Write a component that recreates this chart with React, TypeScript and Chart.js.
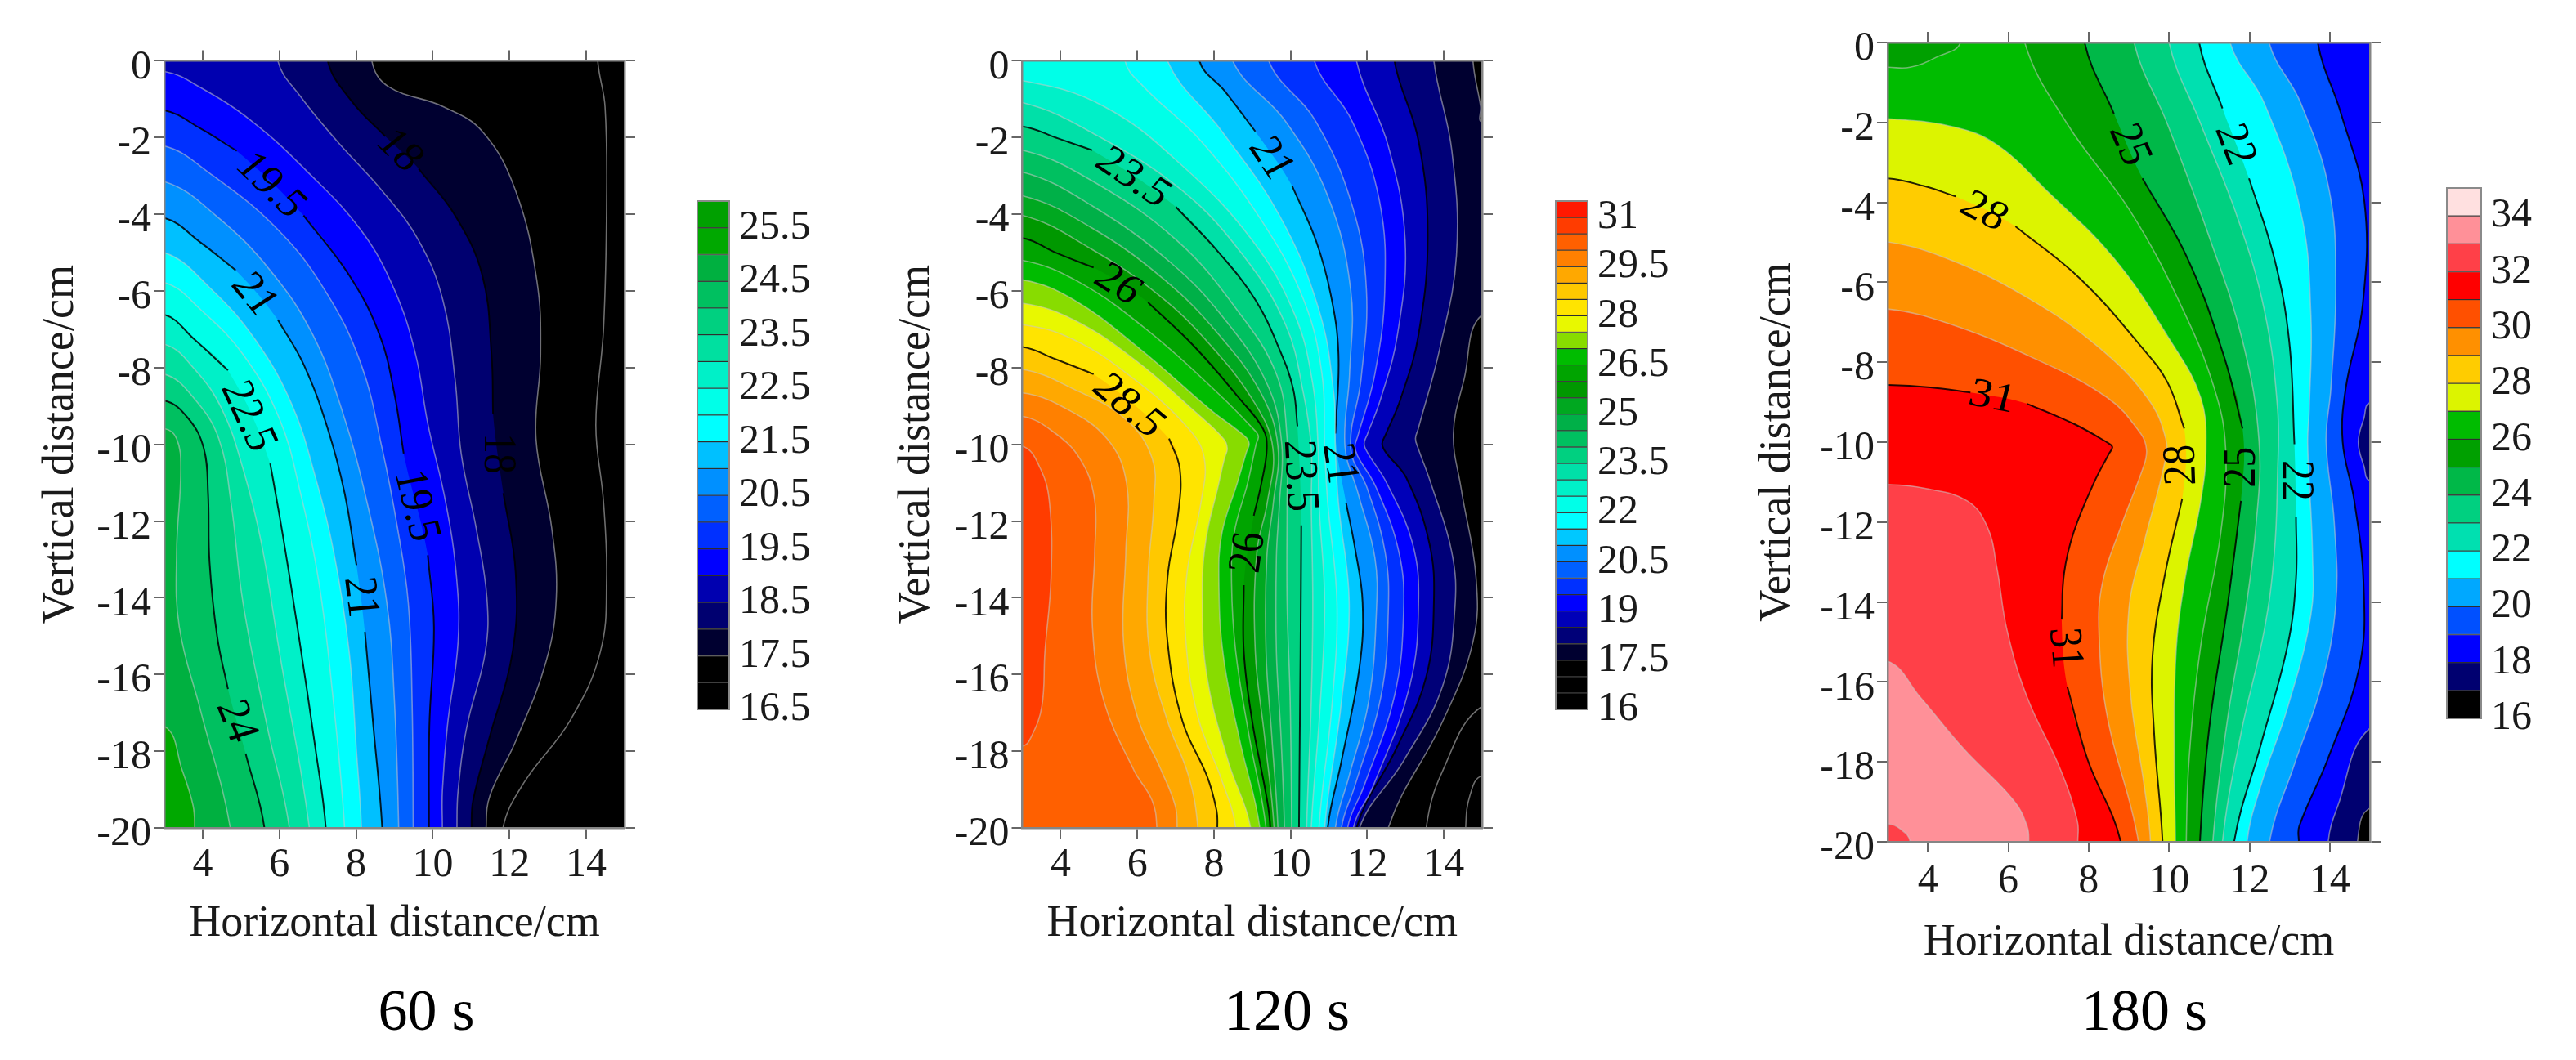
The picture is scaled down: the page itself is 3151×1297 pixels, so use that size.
import React, { useEffect, useRef } from 'react';
import Chart from 'chart.js/auto';

type Pt = number[];

const GAP: Pt = [NaN, NaN];
const SERIF = '"Liberation Serif", "Times New Roman", serif';

const xTicks = [4, 6, 8, 10, 12, 14];
const yTicks = [0, -2, -4, -6, -8, -10, -12, -14, -16, -18, -20];

// ---- 60 s contours, hottest first
const c60_25: Pt[] = [[3, -17.35], [3.47, -18.51], [3.75, -19.42], [3.79, -20]];
const c60_24_5: Pt[] = [[3, -9.59], [3.32, -9.85], [3.43, -10.63], [3.32, -12.82], [3.39, -14.76], [3.95, -16.96], [4.72, -20]];
const c60_24: Pt[] = [[3, -8.86], [3.63, -9.33], [4.03, -10.11], [4.14, -11.27], [4.18, -13.08], [4.38, -15.02], [4.66, -16.38], GAP, [5.12, -18.06], [5.61, -20]];
const c60_23_5: Pt[] = [[3, -8.17], [3.79, -8.82], [4.42, -9.85], [4.74, -11.53], [5.05, -14.12], [5.68, -17.35], [6.26, -20]];
const c60_23: Pt[] = [[3, -7.39], [3.79, -8.04], [4.5, -9.08], [5.05, -10.63], [5.53, -12.57], [6, -15.41], [6.78, -20]];
const c60_22_5: Pt[] = [[3, -6.62], [3.79, -7.27], [4.66, -8.07], GAP, [5.76, -10.5], [6.08, -12.31], [6.47, -14.76], [6.95, -18], [7.21, -20]];
const c60_22: Pt[] = [[3, -5.78], [3.95, -6.49], [5.05, -7.65], [6, -9.33], [6.55, -11.27], [7.03, -13.6], [7.38, -16.44], [7.7, -20]];
const c60_21_5: Pt[] = [[3, -5], [4.18, -5.91], [5.37, -7.27], [6.32, -8.95], [6.95, -10.89], [7.42, -12.82], [7.82, -15.41], [8.01, -18], [8.14, -20]];
const c60_21: Pt[] = [[3, -4.1], [3.95, -4.74], [4.86, -5.46], GAP, [5.96, -6.75], [6.63, -7.91], [7.26, -9.59], [7.7, -11.27], [8.01, -13.15], GAP, [8.23, -14.89], [8.45, -17.35], [8.68, -20]];
const c60_20_5: Pt[] = [[3, -3.15], [4.34, -4.03], [5.76, -5.46], [6.87, -7.14], [7.66, -9.2], [8.29, -11.53], [8.8, -14.12], [9, -16.7], [9.11, -20]];
const c60_20: Pt[] = [[3, -2.22], [4.18, -2.93], [5.92, -4.36], [7.18, -5.97], [8.13, -7.91], [8.68, -10.11], [9.08, -12.18], [9.36, -14.12], [9.46, -16.7], [9.49, -20]];
const c60_19_5: Pt[] = [[3, -1.29], [3.95, -1.77], [4.89, -2.35], GAP, [6.63, -4.03], [7.82, -5.59], [8.61, -7.14], [9, -8.69], [9.24, -10.24], GAP, [9.87, -12.89], [10.03, -14.76], [9.91, -17.35], [9.9, -20]];
const c60_19: Pt[] = [[3, -0.28], [3.95, -0.7], [5.29, -1.58], [6.71, -2.87], [8.13, -4.42], [9, -5.97], [9.55, -7.65], [9.87, -9.46], [10.34, -11.53], [10.62, -13.47], [10.66, -15.15], [10.38, -17.35], [10.25, -19.03], [10.25, -20]];
const c60_18_5: Pt[] = [[5.96, 0], [6.55, -0.93], [7.5, -2.09], [8.68, -3.39], [9.63, -4.68], [10.26, -6.23], [10.58, -8.3], [10.74, -10.24], [11.13, -12.18], [11.41, -13.99], [11.37, -15.41], [10.89, -17.35], [10.66, -19.03], [10.63, -20]];
const c60_18: Pt[] = [[7.26, 0], [7.89, -1.06], [8.76, -1.97], GAP, [9.63, -2.81], [10.58, -4.03], [11.29, -5.59], [11.53, -7.65], [11.57, -9.2], GAP, [11.84, -11.27], [12.16, -13.34], [12.08, -15.41], [11.45, -17.74], [11.05, -19.29], [11.01, -20]];
const c60_17_5: Pt[] = [[8.41, 0], [8.84, -0.67], [10.26, -1.19], [11.29, -1.84], [12.16, -3.39], [12.71, -5.71], [12.81, -7.65], [12.69, -9.85], [13.1, -12.18], [13.22, -13.99], [12.95, -15.67], [12.16, -17.74], [11.49, -19.16], [11.39, -20]];
const c60_17: Pt[] = [[14.3, 0], [14.49, -1.2], [14.53, -3.8], [14.45, -7], [14.25, -9.5], [14.45, -11.5], [14.53, -13.5], [14.37, -15.4], [13.58, -17.2], [12.39, -18.8], [11.83, -20]];

const curves60 = [c60_25, c60_24_5, c60_24, c60_23_5, c60_23, c60_22_5, c60_22, c60_21_5, c60_21, c60_20_5, c60_20, c60_19_5, c60_19, c60_18_5, c60_18, c60_17_5, c60_17];
const levels60 = [25, 24.5, 24, 23.5, 23, 22.5, 22, 21.5, 21, 20.5, 20, 19.5, 19, 18.5, 18, 17.5, 17];
const fills60 = ['#00a800', '#00b040', '#00c060', '#00d080', '#00e0a0', '#00f0c8', '#00ffe8', '#00ffff', '#00c0ff', '#0090ff', '#0060ff', '#0030ff', '#0000ff', '#0000b0', '#000070', '#000030', '#000000'];
const black60 = [24, 22.5, 21, 19.5, 18];
const labels60 = ['18', '19.5', '21', '22.5', '19.5', '18', '21', '24'];
const labelX60 = [9.12, 5.76, 5.33, 5.17, 9.55, 11.68, 8.09, 4.86];
const labelY60 = [-2.35, -3.26, -6.1, -9.27, -11.6, -10.24, -13.99, -17.22];
const labelAngles60 = [44, 44, 50, 65, 76, 90, 83, 68];

// ---- 120 s contours, hottest first
const c120_30_5: Pt[] = [[3, -10.05], [3.47, -10.63], [3.71, -11.53], [3.75, -13.47], [3.59, -15.41], [3.51, -16.83], [3.24, -17.61], [3, -17.87]];
const c120_30: Pt[] = [[3, -9.27], [3.79, -9.66], [4.5, -10.37], [4.88, -11.4], [4.89, -12.82], [4.83, -14.76], [5.13, -16.7], [5.92, -18.51], [6.39, -19.29], [6.51, -20]];
const c120_29_5: Pt[] = [[3, -8.66], [4.03, -9.01], [5.21, -9.85], [5.72, -11.01], [5.7, -12.82], [5.64, -15.15], [6, -17.09], [6.63, -18.51], [6.99, -19.42], [7.04, -20]];
const c120_29: Pt[] = [[3, -8.04], [4.34, -8.56], [5.68, -9.33], [6.39, -10.37], [6.43, -11.53], [6.28, -13.47], [6.32, -15.41], [6.79, -17.22], [7.34, -18.65], [7.58, -20]];
const c120_28_5: Pt[] = [[3, -7.46], [3.87, -7.78], [4.86, -8.17], GAP, [6.83, -9.85], [7.11, -10.63], [7.07, -11.79], [6.79, -13.47], [6.79, -15.15], [7.18, -17.22], [7.82, -18.65], [8.07, -19.55], [8.09, -20]];
const c120_28: Pt[] = [[3, -6.88], [4.34, -7.27], [5.92, -8.3], [7.34, -9.59], [7.75, -10.37], [7.66, -11.53], [7.3, -13.34], [7.26, -15.02], [7.58, -17.09], [8.21, -18.77], [8.57, -20]];
const c120_27_5: Pt[] = [[3, -6.32], [4.34, -6.75], [5.92, -7.78], [7.5, -9.14], [8.25, -9.85], [8.35, -10.11], [8.28, -10.35], [8.13, -11.01], [7.78, -12.57], [7.7, -14.12], [7.82, -16.06], [8.37, -18.25], [8.96, -20]];
const c120_27: Pt[] = [[3, -5.71], [4.34, -6.23], [6.08, -7.52], [7.89, -9.08], [8.82, -9.8], [8.92, -9.98], [8.85, -10.2], [8.61, -11.01], [8.21, -12.31], [8.13, -13.6], [8.25, -15.54], [8.68, -17.74], [9.2, -20]];
const c120_26_5: Pt[] = [[3, -5.2], [4.5, -5.78], [6.32, -7.07], [8.13, -8.69], [9.05, -9.62], [9.16, -9.79], [9.1, -10], [8.88, -11.01], [8.53, -12.31], [8.46, -13.6], [8.57, -15.41], [8.92, -17.61], [9.36, -20]];
const c120_26: Pt[] = [[3, -4.62], [3.87, -5], [4.86, -5.39], GAP, [6.28, -6.3], [7.5, -7.46], [8.68, -8.82], [9.28, -9.59], [9.38, -10.11], [9.24, -11.01], [9.04, -11.86], GAP, [8.78, -13.67], [8.78, -15.41], [9, -17.22], [9.39, -19.29], [9.47, -20]];
const c120_25_5: Pt[] = [[3, -4.03], [4.74, -4.87], [6.55, -6.1], [7.89, -7.39], [9.08, -8.95], [9.54, -10.11], [9.39, -11.53], [9.12, -12.82], [9.08, -15.41], [9.32, -17.61], [9.57, -20]];
const c120_25: Pt[] = [[3, -3.52], [4.82, -4.36], [6.71, -5.71], [8.13, -7.14], [9.24, -8.69], [9.67, -10.05], [9.55, -11.53], [9.38, -12.95], [9.36, -15.41], [9.51, -17.61], [9.67, -20]];
const c120_24_5: Pt[] = [[3, -2.9], [4.82, -3.78], [6.87, -5.26], [8.29, -6.75], [9.39, -8.43], [9.77, -9.98], [9.71, -11.53], [9.63, -12.95], [9.63, -15.41], [9.75, -17.61], [9.84, -20]];
const c120_24: Pt[] = [[3, -2.33], [4.82, -3.13], [7.03, -4.68], [8.6, -6.49], [9.63, -8.17], [9.91, -9.85], [9.91, -11.53], [9.91, -14.12], [9.99, -16.7], [10.03, -20]];
const c120_23_5: Pt[] = [[3, -1.71], [3.95, -2.03], [4.82, -2.33], GAP, [7.01, -3.81], [8.13, -5], [9.08, -6.23], [9.71, -7.52], [10.07, -8.56], [10.18, -9.53], GAP, [10.28, -12.11], [10.26, -15.41], [10.22, -20]];
const c120_23: Pt[] = [[3, -1.09], [4.97, -1.96], [7.18, -3.39], [8.76, -5.07], [9.87, -6.88], [10.34, -8.69], [10.54, -10.11], [10.54, -11.53], [10.58, -14.12], [10.54, -16.7], [10.42, -20]];
const c120_22_5: Pt[] = [[3, -0.52], [5.13, -1.19], [7.18, -2.74], [9, -4.68], [10.11, -6.62], [10.58, -8.43], [10.72, -10.11], [10.74, -11.53], [10.89, -14.12], [10.78, -16.7], [10.54, -20]];
const c120_22: Pt[] = [[5.68, 0], [6.16, -0.67], [7.66, -2.09], [9.24, -4.16], [10.34, -6.23], [10.82, -8.17], [10.89, -10.11], [10.97, -11.53], [11.21, -14.12], [11.09, -16.7], [10.74, -20]];
const c120_21_5: Pt[] = [[6.79, 0], [8.21, -1.84], [9.71, -4.03], [10.74, -6.49], [11.13, -8.69], [11.17, -10.11], [11.25, -11.53], [11.53, -14.12], [11.33, -16.7], [10.89, -20]];
const c120_21: Pt[] = [[7.62, 0], [8.29, -0.8], [9.08, -1.84], GAP, [10.04, -3.26], [10.66, -4.68], [11.05, -6.1], [11.25, -7.65], [11.17, -9.72], GAP, [11.45, -11.53], [11.68, -12.7], [11.88, -14.12], [11.8, -15.8], [11.33, -18.25], [10.97, -20]];
const c120_20_5: Pt[] = [[8.49, 0], [9.87, -1.58], [10.97, -3.52], [11.57, -5.97], [11.54, -8.17], [11.42, -10.05], [11.76, -11.27], [12.2, -12.95], [12.24, -14.38], [12.04, -16.7], [11.53, -18.64], [11.17, -20]];
const c120_20: Pt[] = [[9.43, 0], [10.66, -1.58], [11.61, -3.78], [11.98, -5.97], [11.84, -8.3], [11.57, -10.11], [12, -11.14], [12.47, -12.82], [12.55, -14.38], [12.36, -16.57], [11.68, -18.9], [11.33, -20]];
const c120_19_5: Pt[] = [[10.62, 0], [11.61, -1.58], [12.32, -3.65], [12.46, -5.97], [12.2, -8.17], [11.75, -9.8], [11.68, -10.05], [11.75, -10.3], [12.24, -11.14], [12.83, -12.82], [12.95, -14.38], [12.71, -16.57], [11.92, -18.9], [11.49, -20]];
const c120_19: Pt[] = [[11.72, 0], [12.55, -2.22], [12.99, -4.68], [12.79, -7.14], [12.35, -8.82], [12, -9.75], [11.92, -9.98], [12, -10.2], [12.51, -11.01], [13.18, -12.57], [13.34, -14.12], [13.11, -16.3], [12.16, -18.9], [11.64, -20]];
const c120_18_5: Pt[] = [[12.71, 0], [13.34, -2.09], [13.58, -4.55], [13.34, -7.14], [12.87, -8.82], [12.48, -9.75], [12.39, -9.98], [12.48, -10.2], [13.03, -10.89], [13.62, -12.57], [13.74, -14.12], [13.54, -16.06], [12.79, -17.87], [11.72, -20]];
const c120_18: Pt[] = [[13.74, 0], [14.21, -2.35], [14.33, -5.07], [13.89, -7.52], [13.33, -9.6], [13.26, -9.85], [13.33, -10.1], [13.66, -11.01], [14.21, -12.82], [14.29, -14.25], [13.97, -16.3], [12.95, -18.25], [11.8, -20]];
const c120_17_5: Pt[] = [[15, -6.62], [14.53, -8.3], [14.25, -9.72], [14.45, -11.14], [14.84, -13.47], [14.76, -15.15], [13.97, -17.22], [12.55, -20]];
const p120_corner: Pt[] = [[14.76, 0], [14.96, -1.19], [15, -1.6]];
const l120_17: Pt[] = [[15, -16.83], [13.97, -18.51], [13.54, -20]];
const l120_16_5: Pt[] = [[15, -18.64], [14.68, -19.16], [14.57, -20]];

const curves120 = [c120_30_5, c120_30, c120_29_5, c120_29, c120_28_5, c120_28, c120_27_5, c120_27, c120_26_5, c120_26, c120_25_5, c120_25, c120_24_5, c120_24, c120_23_5, c120_23, c120_22_5, c120_22, c120_21_5, c120_21, c120_20_5, c120_20, c120_19_5, c120_19, c120_18_5, c120_18, c120_17_5];
const levels120 = [30.5, 30, 29.5, 29, 28.5, 28, 27.5, 27, 26.5, 26, 25.5, 25, 24.5, 24, 23.5, 23, 22.5, 22, 21.5, 21, 20.5, 20, 19.5, 19, 18.5, 18, 17.5];
const fills120 = ['#ff3c00', '#ff6000', '#ff8000', '#ffa800', '#ffc800', '#ffe400', '#e8f800', '#88dc00', '#00bc00', '#00a400', '#009800', '#00a820', '#00b048', '#00c060', '#00d080', '#00e0a8', '#00f0c8', '#00ffe8', '#00ffff', '#00c8ff', '#0090ff', '#0060ff', '#0030ff', '#0000ff', '#0000b8', '#000078', '#000030'];
const black120 = [28.5, 26, 23.5, 21, 18.5];
const labels120 = ['23.5', '26', '28.5', '21', '23.5', '21', '26'];
const labelX120 = [5.88, 5.49, 5.76, 9.47, 10.22, 11.25, 8.92];
const labelY120 = [-3.06, -5.84, -9.01, -2.55, -10.82, -10.5, -12.82];
const labelAngles120 = [34, 32, 40, 56, 87, 81, -82];

// ---- 180 s contours, hottest first
const c180_33: Pt[] = [[3, -15.48], [3.81, -16.38], [4.89, -17.67], [6.14, -18.97], [6.47, -19.61], [6.51, -20]];
const c180_32: Pt[] = [[3, -11.06], [3.9, -11.15], [4.98, -11.47], [5.48, -12.12], [5.72, -13.15], [5.97, -14.7], [6.47, -16.38], [7.3, -18.19], [7.72, -19.48], [7.73, -20]];
const c180_31: Pt[] = [[3, -8.57], [4.06, -8.63], [5.06, -8.76], GAP, [6.47, -9.04], [7.63, -9.54], [8.45, -10], [8.59, -10.12], [8.5, -10.3], [8.13, -11.02], [7.63, -12.25], [7.39, -13.28], [7.33, -14.44], GAP, [7.47, -16.12], [7.97, -17.93], [8.8, -20]];
const c180_30: Pt[] = [[3, -6.67], [4.48, -7.02], [6.55, -7.86], [8.47, -8.89], [9.3, -9.79], [9.44, -10.18], [9.38, -10.57], [8.8, -12.12], [8.34, -13.54], [8.26, -14.83], [8.47, -16.9], [9.24, -20]];
const c180_29: Pt[] = [[3, -4.99], [4.64, -5.47], [6.55, -6.43], [8.22, -7.6], [9.46, -8.89], [9.92, -9.92], [9.88, -10.57], [9.38, -12.51], [9, -14.19], [9.05, -16.38], [9.38, -18.58], [9.54, -20]];
const c180_28: Pt[] = [[3, -3.4], [3.9, -3.59], [4.69, -3.85], GAP, [6.18, -4.6], [7.8, -5.92], [9.3, -7.6], [9.96, -8.5], [10.38, -9.66], GAP, [10.33, -11.41], [9.88, -13.41], [9.59, -15.35], [9.63, -17.29], [9.84, -20]];
const c180_27: Pt[] = [[3, -1.91], [4.64, -2.11], [5.72, -2.56], [6.97, -3.72], [8.63, -5.4], [10.04, -7.47], [10.79, -8.89], [10.92, -10.18], [10.79, -11.47], [10.38, -13.54], [10.17, -15.35], [10.13, -17.93], [10.16, -20]];
const c180_26: Pt[] = [[6.41, 0], [7.47, -2.04], [9.05, -4.24], [10.29, -6.56], [11.12, -8.63], [11.41, -10.18], [11.29, -12.25], [10.79, -15.09], [10.5, -17.93], [10.43, -20]];
const c180_25: Pt[] = [[7.9, 0], [8.63, -1.78], GAP, [9.34, -3.4], [10.46, -5.4], [11.37, -7.86], [11.83, -9.66], GAP, [11.79, -11.47], [11.46, -14.06], [11, -17.16], [10.77, -20]];
const c180_24: Pt[] = [[9.13, 0], [9.96, -2.04], [10.96, -4.75], [11.83, -7.47], [12.24, -9.99], [12.16, -12.12], [11.87, -14.44], [11.46, -16.9], [11.09, -20]];
const c180_23: Pt[] = [[10, 0], [10.79, -2.04], [11.7, -4.37], [12.37, -6.69], [12.7, -9.15], [12.7, -10.83], [12.62, -12.77], [12.37, -14.7], [11.79, -17.29], [11.33, -20]];
const c180_22: Pt[] = [[10.75, 0], [11.33, -1.65], GAP, [11.99, -3.4], [12.62, -5.4], [12.99, -7.47], [13.12, -10.05], GAP, [13.16, -11.86], [13.16, -13.41], [12.95, -15.09], [12.29, -17.55], [11.62, -20]];
const c180_21: Pt[] = [[11.52, 0], [12.37, -1.52], [13.28, -4.24], [13.53, -6.82], [13.49, -9.15], [13.45, -10.05], [13.57, -12.77], [13.53, -14.32], [12.95, -16.64], [12.29, -18.58], [11.94, -20]];
const c180_20: Pt[] = [[12.49, 0], [13.28, -1.52], [13.99, -3.72], [14.15, -6.05], [14.03, -8.63], [13.91, -9.99], [14.11, -11.99], [14.15, -14.06], [13.78, -16.12], [13.12, -18.06], [12.5, -20]];
const c180_19: Pt[] = [[13.7, 0], [14.28, -1.78], [14.86, -3.98], [14.82, -6.56], [14.4, -8.63], [14.32, -9.99], [14.61, -11.47], [14.84, -13.54], [14.74, -15.61], [13.95, -17.93], [13.24, -19.61], [13.23, -20]];
const p180_topLeft: Pt[] = [[3, -0.62], [3.56, -0.62], [4.23, -0.36], [4.81, 0]];
const p180_bottomLeft: Pt[] = [[3, -19.55], [3.32, -19.68], [3.56, -20]];
const p180_bump: Pt[] = [[15, -9.02], [14.85, -9.4], [14.71, -10], [14.85, -10.6], [15, -10.96]];
const p180_navy: Pt[] = [[13.96, -20], [14.2, -19.1], [15, -17.16]];
const p180_black: Pt[] = [[14.69, -20], [15, -19.16]];

const curves180 = [c180_33, c180_32, c180_31, c180_30, c180_29, c180_28, c180_27, c180_26, c180_25, c180_24, c180_23, c180_22, c180_21, c180_20, c180_19];
const levels180 = [33, 32, 31, 30, 29, 28, 27, 26, 25, 24, 23, 22, 21, 20, 19];
const fills180 = ['#ff9098', '#ff4048', '#ff0000', '#ff5000', '#ff9000', '#ffcc00', '#dcf400', '#00bc00', '#00a000', '#00b848', '#00d080', '#00e0b0', '#00ffff', '#00a8ff', '#0050ff'];
const black180 = [31, 28, 25, 22, 19];
const labels180 = ['25', '22', '28', '31', '28', '25', '22', '31'];
const labelX180 = [9, 11.62, 5.39, 5.6, 10.33, 11.83, 13.12, 7.39];
const labelY180 = [-2.56, -2.56, -4.24, -8.89, -10.57, -10.63, -10.96, -15.15];
const labelAngles180 = [66, 69, 27, 11, -92, -90, 90, 85];

// ---- colour bars, bottom to top
const barEdges60 = [16.5, 17, 17.5, 18, 18.5, 19, 19.5, 20, 20.5, 21, 21.5, 22, 22.5, 23, 23.5, 24, 24.5, 25, 25.5, 26];
const barColors60 = ['#000000', '#000000', '#000030', '#000070', '#0000b0', '#0000ff', '#0030ff', '#0060ff', '#0090ff', '#00c0ff', '#00ffff', '#00ffe8', '#00f0c8', '#00e0a0', '#00d080', '#00c060', '#00b040', '#00a800', '#00a000'];
const barTicks60 = [16.5, 17.5, 18.5, 19.5, 20.5, 21.5, 22.5, 23.5, 24.5, 25.5];

const barEdges120 = [16, 16.5, 17, 17.5, 18, 18.5, 19, 19.5, 20, 20.5, 21, 21.5, 22, 22.5, 23, 23.5, 24, 24.5, 25, 25.5, 26, 26.5, 27, 27.5, 28, 28.5, 29, 29.5, 30, 30.5, 31, 31.5];
const barColors120 = ['#000000', '#000000', '#000000', '#000030', '#000078', '#0000b8', '#0000ff', '#0030ff', '#0060ff', '#0090ff', '#00c8ff', '#00ffff', '#00ffe8', '#00f0c8', '#00e0a8', '#00d080', '#00c060', '#00b048', '#00a820', '#009800', '#00a400', '#00bc00', '#88dc00', '#e8f800', '#ffe400', '#ffc800', '#ffa800', '#ff8000', '#ff6000', '#ff3c00', '#ff1800'];
const barTicks120 = [16, 17.5, 19, 20.5, 22, 23.5, 25, 26.5, 28, 29.5, 31];

const barEdges180 = [16, 17, 18, 19, 20, 21, 22, 23, 24, 25, 26, 27, 28, 29, 30, 31, 32, 33, 34, 35];
const barColors180 = ['#000000', '#000070', '#0000ff', '#0050ff', '#00a8ff', '#00ffff', '#00e0b0', '#00d080', '#00b848', '#00a000', '#00bc00', '#dcf400', '#ffcc00', '#ff9000', '#ff5000', '#ff0000', '#ff4048', '#ff9098', '#ffe0e0'];
const barTicks180 = [16, 18, 20, 22, 24, 26, 28, 30, 32, 34];

const TL: Pt = [-5, 10];
const TR: Pt = [20, 10];
const BL: Pt = [-5, -30];
const BR: Pt = [20, -30];

// carry a curve past the axis so the clip hides its ends
const extend = ([x, y]: Pt): Pt => {
  if (y === 0) return [x, 1.5];
  if (y === -20) return [x, -21.5];
  if (x === 3) return [1.5, y];
  return [16.5, y];
};

const toXY = (pts: Pt[]) => pts.map(([x, y]) => ({ x, y }));

const fillSet = (pts: Pt[], color: string, corners?: Pt[]) => {
  const solid = pts.filter((p) => !Number.isNaN(p[0]));
  const around = corners ?? (solid[0][0] === 15 ? [BL, TL, TR] : [BL, TL]);
  return {
    data: toXY([extend(solid[0]), ...solid, extend(solid[solid.length - 1]), ...around]),
    backgroundColor: color,
    fill: 'shape',
    borderWidth: 0,
    showLine: true,
    pointRadius: 0,
    tension: 0.4,
    capBezierPoints: false,
  };
};

const strokeSet = (pts: Pt[], dark: boolean) => ({
  data: toXY([extend(pts[0]), ...pts, extend(pts[pts.length - 1])]),
  borderColor: dark ? 'rgba(0,0,0,0.85)' : 'rgba(200,200,200,0.55)',
  borderWidth: dark ? 2 : 1.6,
  fill: false,
  showLine: true,
  pointRadius: 0,
  tension: 0.4,
  capBezierPoints: false,
});

interface PanelProps {
  left: number;
  width: number;
  plotLeft: number;
  plotRight: number;
  plotTop: number;
  plotBottom: number;
  yTitleOffset: number;
  xTitleOffset: number;
  tickGap: number;
  caption: string;
  base: string;
  curves: Pt[][];
  levels: number[];
  fills: string[];
  blackLevels: number[];
  patches?: { pts: Pt[]; color: string; corners: Pt[] }[];
  extraLines?: Pt[][];
  labels: string[];
  labelX: number[];
  labelY: number[];
  labelAngles: number[];
}

const tickList = (list: number[]) => (scale: any) => {
  scale.ticks = list.map((value) => ({ value }));
};

// the source figure is a little wider than it is tall
const LABEL_STRETCH = 1.14;

const ContourPanel: React.FC<PanelProps> = (p) => {
  const canvasRef = useRef<HTMLCanvasElement | null>(null);

  useEffect(() => {
    if (!canvasRef.current) return;
    const axisFont = { family: SERIF, size: 50 };
    const titleFont = { family: SERIF, size: 54, lineHeight: 1.2 };
    const edge = { color: '#858585', width: 2.5, z: 1 };
    const tick = { color: '#666666', drawOnChartArea: false, tickLength: 13, lineWidth: 2 };

    const datasets: any[] = [];
    (p.patches ?? []).forEach((s) => {
      datasets.push(strokeSet(s.pts, false));
      datasets.push(fillSet(s.pts, s.color, s.corners));
    });
    (p.extraLines ?? []).forEach((pts) => datasets.push(strokeSet(pts, false)));
    p.curves.forEach((pts, i) => {
      datasets.push(strokeSet(pts, p.blackLevels.includes(p.levels[i])));
      datasets.push(fillSet(pts, p.fills[i]));
    });
    // coldest band fills the whole plot underneath
    datasets.push({
      data: toXY([[3, 0], [15, 0], [15, -20], [3, -20]]),
      backgroundColor: p.base,
      fill: 'shape',
      borderWidth: 0,
      showLine: true,
      pointRadius: 0,
    });

    const contourLabels = {
      id: 'contourLabels',
      afterDatasetsDraw(chart: any) {
        const { ctx, scales } = chart;
        ctx.save();
        ctx.font = `50px ${SERIF}`;
        ctx.fillStyle = '#000';
        ctx.textAlign = 'center';
        ctx.textBaseline = 'middle';
        p.labels.forEach((text, i) => {
          const a = (p.labelAngles[i] * Math.PI) / 180;
          ctx.save();
          ctx.translate(scales.x.getPixelForValue(p.labelX[i]), scales.y.getPixelForValue(p.labelY[i]));
          ctx.scale(LABEL_STRETCH, 1);
          ctx.rotate(Math.atan2(Math.sin(a) * LABEL_STRETCH, Math.cos(a)));
          ctx.fillText(text, 0, 0);
          ctx.restore();
        });
        ctx.restore();
      },
    };

    const chart = new Chart(canvasRef.current, {
      type: 'scatter',
      data: { datasets },
      plugins: [contourLabels],
      options: {
        animation: false,
        responsive: false,
        devicePixelRatio: 1,
        events: [],
        layout: { autoPadding: false, padding: 0 },
        plugins: {
          legend: { display: false },
          tooltip: { enabled: false },
          title: {
            display: true,
            text: p.caption,
            position: 'bottom',
            color: '#000',
            font: { family: SERIF, size: 72, weight: 'normal', lineHeight: 1.2 },
            padding: { top: 0, bottom: 12.8 },
          },
        },
        scales: {
          x: {
            type: 'linear',
            position: 'bottom',
            min: 3,
            max: 15,
            border: edge,
            grid: tick,
            afterBuildTicks: tickList(xTicks),
            afterFit: (s: any) => {
              s.height = 1197.8 - p.plotBottom;
            },
            ticks: { color: '#1a1a1a', font: axisFont, padding: p.tickGap, maxRotation: 0, callback: (v: any) => String(v) },
            title: { display: true, text: 'Horizontal distance/cm', color: '#1a1a1a', font: titleFont, padding: { top: 0, bottom: p.xTitleOffset } },
          },
          y: {
            type: 'linear',
            position: 'left',
            min: -20,
            max: 0,
            border: edge,
            grid: tick,
            afterBuildTicks: tickList(yTicks),
            afterFit: (s: any) => {
              s.width = p.plotLeft - p.left;
              // digits sit a few pixels low against their tick marks
              const items = s._computeLabelItems.bind(s);
              s._computeLabelItems = (area: any) =>
                items(area).map((it: any) => ({
                  ...it,
                  options: { ...it.options, translation: [it.options.translation[0], it.options.translation[1] + 4] },
                }));
            },
            ticks: { color: '#1a1a1a', font: axisFont, padding: 3, callback: (v: any) => String(v) },
            title: { display: true, text: 'Vertical distance/cm', color: '#1a1a1a', font: titleFont, padding: { top: p.yTitleOffset, bottom: 0 } },
          },
          x2: {
            type: 'linear',
            axis: 'x',
            position: 'top',
            min: 3,
            max: 15,
            border: edge,
            grid: tick,
            afterBuildTicks: tickList(xTicks),
            afterFit: (s: any) => {
              s.height = p.plotTop;
            },
            ticks: { display: false },
          },
          y2: {
            type: 'linear',
            axis: 'y',
            position: 'right',
            min: -20,
            max: 0,
            border: edge,
            grid: tick,
            afterBuildTicks: tickList(yTicks),
            afterFit: (s: any) => {
              s.width = p.left + p.width - p.plotRight;
            },
            ticks: { display: false },
          },
        },
      } as any,
    });
    return () => chart.destroy();
  }, []);

  return (
    <canvas
      ref={canvasRef}
      width={p.width}
      height={1297}
      style={{ position: 'absolute', left: p.left, top: 0, width: p.width, height: 1297 }}
    />
  );
};

interface BarProps {
  left: number;
  top: number;
  barWidth: number;
  barHeight: number;
  labelWidth: number;
  edges: number[];
  colors: string[];
  ticks: number[];
}

const ColorBar: React.FC<BarProps> = ({ left, top, barWidth, barHeight, labelWidth, edges, colors, ticks }) => {
  const canvasRef = useRef<HTMLCanvasElement | null>(null);
  const margin = 13;
  const pad = 40;

  useEffect(() => {
    if (!canvasRef.current) return;
    const frame = {
      id: 'frame',
      afterDatasetsDraw(chart: any) {
        const { ctx, chartArea: a } = chart;
        ctx.save();
        ctx.strokeStyle = '#8a8a8a';
        ctx.lineWidth = 2;
        ctx.strokeRect(a.left, a.top, a.right - a.left, a.bottom - a.top);
        ctx.restore();
      },
    };
    const chart = new Chart(canvasRef.current, {
      type: 'bar',
      data: {
        labels: [''],
        datasets: colors.map((color, i) => ({
          data: [[edges[i], edges[i + 1]]],
          backgroundColor: color,
          borderColor: 'rgba(0,0,0,0.7)',
          borderWidth: { top: 1, bottom: 1 },
          borderSkipped: false,
          grouped: false,
          barPercentage: 1,
          categoryPercentage: 1,
        })),
      },
      plugins: [frame],
      options: {
        animation: false,
        responsive: false,
        devicePixelRatio: 1,
        events: [],
        layout: { autoPadding: false, padding: { left: margin, top: pad, bottom: pad, right: 0 } },
        plugins: { legend: { display: false }, tooltip: { enabled: false } },
        scales: {
          x: { display: false },
          y: {
            position: 'right',
            min: edges[0],
            max: edges[edges.length - 1],
            border: { display: false },
            grid: { display: false, drawTicks: false },
            afterBuildTicks: tickList(ticks),
            afterFit: (s: any) => {
              s.width = labelWidth;
            },
            ticks: { color: '#1a1a1a', font: { family: SERIF, size: 50 }, padding: 12, autoSkip: false, callback: (v: any) => String(v) },
          },
        },
      } as any,
    });
    return () => chart.destroy();
  }, []);

  const w = margin + barWidth + labelWidth;
  const h = barHeight + pad * 2;
  return (
    <canvas
      ref={canvasRef}
      width={w}
      height={h}
      style={{ position: 'absolute', left: left - margin, top: top - pad, width: w, height: h }}
    />
  );
};

export default function App() {
  return (
    <div style={{ position: 'absolute', left: 0, top: 0, width: 3151, height: 1297, background: '#fff', overflow: 'hidden' }}>
      <ContourPanel
        left={0}
        width={1043}
        plotLeft={201}
        plotRight={764}
        plotTop={74.4}
        plotBottom={1013}
        yTitleOffset={42}
        xTitleOffset={34.4}
        tickGap={3}
        caption="60 s"
        base="#000000"
        curves={curves60}
        levels={levels60}
        fills={fills60}
        blackLevels={black60}
        labels={labels60}
        labelX={labelX60}
        labelY={labelY60}
        labelAngles={labelAngles60}
      />
      <ContourPanel
        left={1000}
        width={1148}
        plotLeft={1250.5}
        plotRight={1813}
        plotTop={74.4}
        plotBottom={1013}
        yTitleOffset={89.6}
        xTitleOffset={34.4}
        tickGap={3}
        caption="120 s"
        base="#000000"
        curves={curves120}
        levels={levels120}
        fills={fills120}
        blackLevels={black120}
        patches={[{ pts: p120_corner, color: '#000000', corners: [TR] }]}
        extraLines={[l120_17, l120_16_5]}
        labels={labels120}
        labelX={labelX120}
        labelY={labelY120}
        labelAngles={labelAngles120}
      />
      <ContourPanel
        left={2100}
        width={1046}
        plotLeft={2309}
        plotRight={2899}
        plotTop={52}
        plotBottom={1030}
        yTitleOffset={42}
        xTitleOffset={11.4}
        tickGap={6}
        caption="180 s"
        base="#0000ff"
        curves={curves180}
        levels={levels180}
        fills={fills180}
        blackLevels={black180}
        patches={[
          { pts: p180_black, color: '#000000', corners: [BR] },
          { pts: p180_navy, color: '#000070', corners: [BR] },
          { pts: p180_bump, color: '#000070', corners: [] },
          { pts: p180_topLeft, color: '#00a000', corners: [TL] },
          { pts: p180_bottomLeft, color: '#ff4048', corners: [BL] },
        ]}
        labels={labels180}
        labelX={labelX180}
        labelY={labelY180}
        labelAngles={labelAngles180}
      />
      <ColorBar left={852.5} top={244} barWidth={39.5} barHeight={626} labelWidth={120} edges={barEdges60} colors={barColors60} ticks={barTicks60} />
      <ColorBar left={1903} top={244} barWidth={39} barHeight={626} labelWidth={120} edges={barEdges120} colors={barColors120} ticks={barTicks120} />
      <ColorBar left={2993} top={227.5} barWidth={42} barHeight={653.5} labelWidth={116} edges={barEdges180} colors={barColors180} ticks={barTicks180} />
    </div>
  );
}
